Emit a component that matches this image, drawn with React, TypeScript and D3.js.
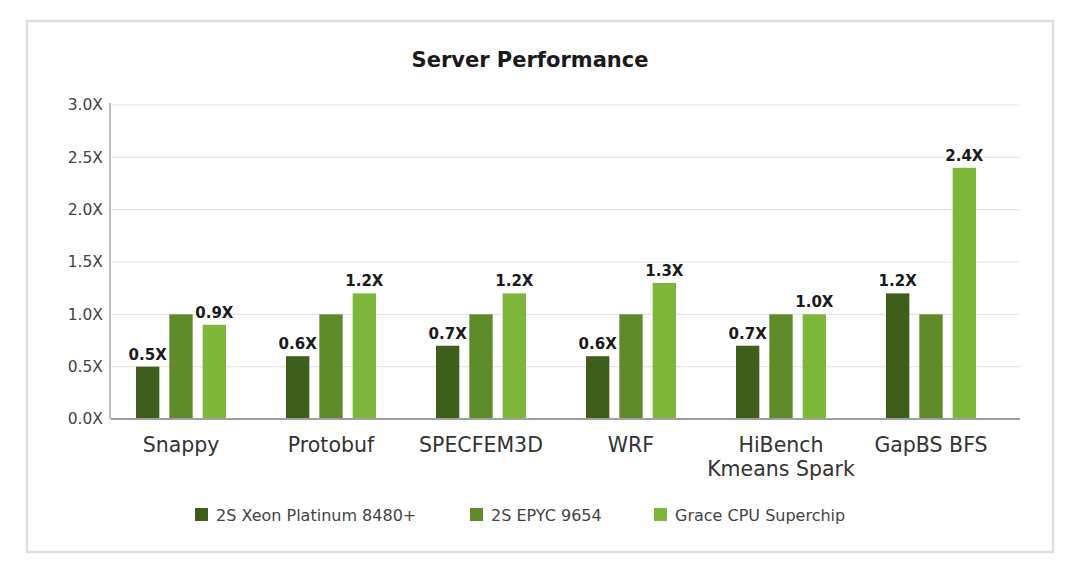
import React from "react";
import * as d3 from "d3";

const categories: string[][] = [
  ["Snappy"],
  ["Protobuf"],
  ["SPECFEM3D"],
  ["WRF"],
  ["HiBench", "Kmeans Spark"],
  ["GapBS BFS"],
];
const seriesNames = ["2S Xeon Platinum 8480+", "2S EPYC 9654", "Grace CPU Superchip"];
const xeon = [0.5, 0.6, 0.7, 0.6, 0.7, 1.2];
const epyc = [1.0, 1.0, 1.0, 1.0, 1.0, 1.0];
const grace = [0.9, 1.2, 1.2, 1.3, 1.0, 2.4];
const yTicks = [0, 0.5, 1.0, 1.5, 2.0, 2.5, 3.0];
const colors = ["#3f5e1b", "#5f8a29", "#7db638"];

const W = 1080;
const H = 566;
const plotLeft = 111;
const plotRight = 1020;
const plotTop = 105;
const plotBottom = 419;

export default function App() {
  const series = [xeon, epyc, grace];
  const y = d3.scaleLinear().domain([0, 3]).range([plotBottom, plotTop]);
  const x0 = d3
    .scaleBand<number>()
    .domain(categories.map((_, i) => i))
    .range([106, 1006])
    .paddingInner(0)
    .paddingOuter(0);
  const groupW = 90;
  const x1 = d3
    .scaleBand<number>()
    .domain([0, 1, 2])
    .range([0, groupW])
    .paddingInner(0.3)
    .paddingOuter(0);
  const font = "'DejaVu Sans', 'Open Sans', sans-serif";
  const legendX = [195, 470, 654];

  return (
    <svg
      width={W}
      height={H}
      style={{ position: "absolute", left: 0, top: 0, background: "#fff" }}
    >
      <rect x={0} y={0} width={W} height={H} fill="#fff" />
      <rect x={27} y={21} width={1026} height={531} fill="#fff" stroke="#dedede" strokeWidth={2.5} />
      <text
        x={530}
        y={67}
        textAnchor="middle"
        fontFamily={font}
        fontWeight={700}
        fontSize={21}
        fill="#1a1a1a"
      >
        Server Performance
      </text>
      {yTicks.map((t) => (
        <g key={t}>
          {t > 0 && (
            <line x1={plotLeft} x2={plotRight} y1={y(t)} y2={y(t)} stroke="#e6e6e6" strokeWidth={1.2} />
          )}
          <text
            x={103}
            y={y(t)}
            dy="0.35em"
            textAnchor="end"
            fontFamily={font}
            fontSize={15.5}
            fill="#444"
          >
            {t.toFixed(1) + "X"}
          </text>
        </g>
      ))}
      <line x1={110} x2={110} y1={plotTop - 2} y2={plotBottom} stroke="#aaa" strokeWidth={1.5} />
      {categories.map((cat, i) => {
        const gx = (x0(i) as number) + (x0.bandwidth() - groupW) / 2;
        return (
          <g key={i}>
            {series.map((s, k) => {
              const bx = gx + (x1(k) as number);
              const bw = x1.bandwidth();
              const v = s[i];
              return (
                <g key={k}>
                  <rect x={bx} y={y(v)} width={bw} height={plotBottom - y(v)} fill={colors[k]} />
                  {k !== 1 && (
                    <text
                      x={bx + bw / 2}
                      y={y(v) - 7}
                      textAnchor="middle"
                      fontFamily={font}
                      fontWeight={700}
                      fontSize={15}
                      fill="#1a1a1a"
                    >
                      {v.toFixed(1) + "X"}
                    </text>
                  )}
                </g>
              );
            })}
            {cat.map((line, j) => (
              <text
                key={j}
                x={gx + groupW / 2}
                y={452 + j * 24}
                textAnchor="middle"
                fontFamily={font}
                fontSize={20.5}
                fill="#333"
              >
                {line}
              </text>
            ))}
          </g>
        );
      })}
      <line x1={plotLeft} x2={plotRight} y1={plotBottom} y2={plotBottom} stroke="#a0a0a0" strokeWidth={2} />
      {seriesNames.map((n, k) => (
        <g key={n}>
          <rect x={legendX[k]} y={508} width={13} height={13} fill={colors[k]} />
          <text
            x={legendX[k] + 21}
            y={515}
            dy="0.35em"
            fontFamily={font}
            fontSize={16}
            fill="#444"
          >
            {n}
          </text>
        </g>
      ))}
    </svg>
  );
}
